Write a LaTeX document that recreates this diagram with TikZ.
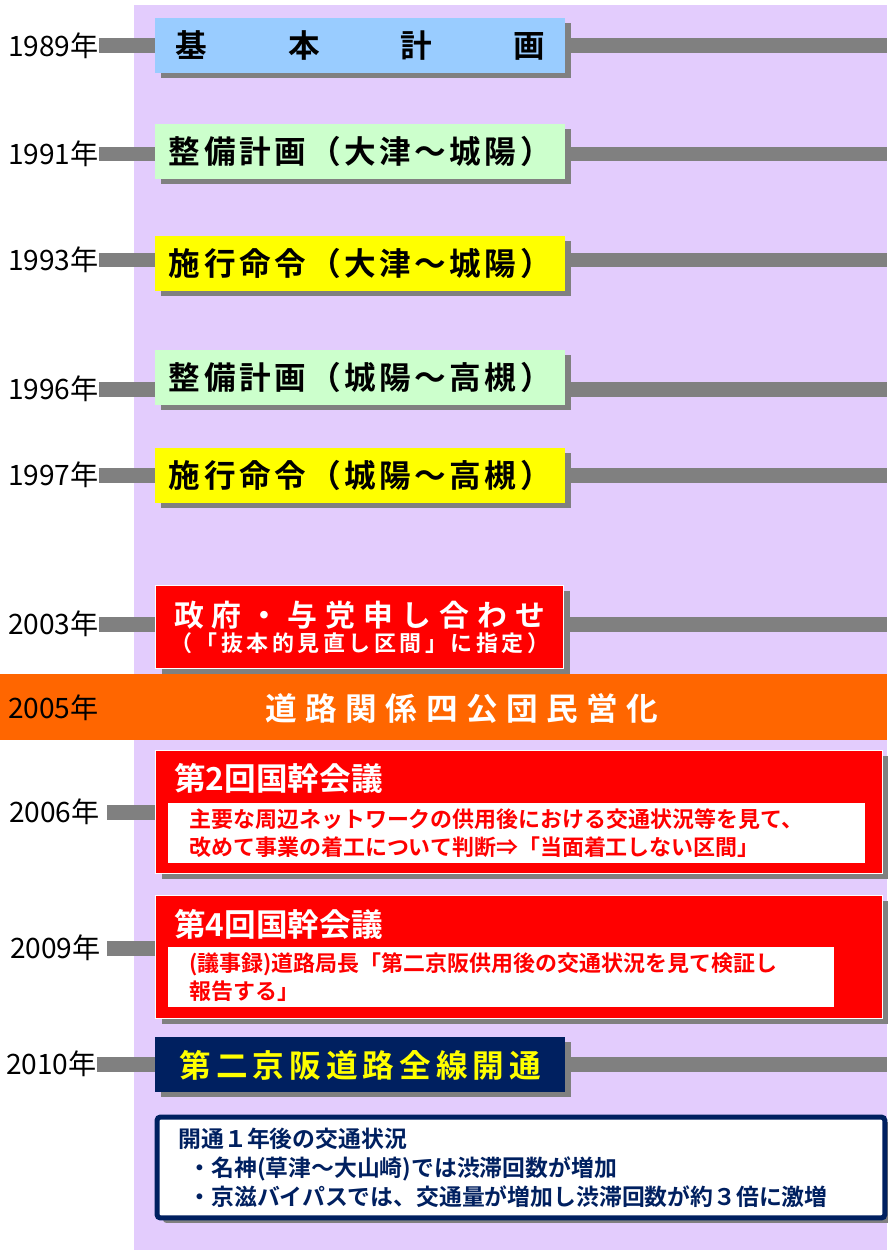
\documentclass[tikz,border=0pt]{standalone}
\usepackage{fontspec}
\usepackage{tikz}
\usetikzlibrary{shadows}

\newfontfamily\jp{Noto Sans CJK JP}
\newfontfamily\jpb{Noto Sans CJK JP Bold}
\newfontfamily\jpbsp{Noto Sans CJK JP Bold}[LetterSpace=16]
\newfontfamily\jpbnarrow{Noto Sans CJK JP Bold}[LetterSpace=11]
\newfontfamily\jpbwide{Noto Sans CJK JP Bold}[LetterSpace=27]

\definecolor{bgPurple}{RGB}{227,204,253}
\definecolor{barGray}{RGB}{128,128,128}
\definecolor{planBlue}{RGB}{153,204,255}
\definecolor{planGreen}{RGB}{204,255,204}
\definecolor{orderYellow}{RGB}{255,255,0}
\definecolor{alertRed}{RGB}{255,0,0}
\definecolor{bandOrange}{RGB}{255,102,0}
\definecolor{navy}{RGB}{0,32,96}

\begin{document}
\begin{tikzpicture}[
			x=0.02cm, y=-0.02cm,
			bar/.style={draw=barGray, line width=0.3cm},
			yearlbl/.style={anchor=east, inner sep=0pt, font=\jp\fontsize{16}{16}\selectfont},
			boxshadow/.style={drop shadow={shadow xshift=0.12cm, shadow yshift=-0.1cm, fill=barGray, opacity=1}},
			evbox/.style={
				anchor=north west,
				minimum width=8.2cm,
				minimum height=1.1cm,
				inner sep=0pt,
				font=\jpbsp\fontsize{18}{18}\selectfont,
				boxshadow
			},
			stagebox/.style={evbox, font=\jpbnarrow\fontsize{18}{18}\selectfont},
			redbox/.style={
				anchor=north west,
				fill=alertRed,
				draw=white,
				line width=0.8pt,
				inner sep=0pt,
				boxshadow
			},
			mtgtitle/.style={anchor=west, inner sep=0pt, text=white, font=\jpb\fontsize{18}{18}\selectfont},
			innerbox/.style={
				anchor=north west,
				fill=white,
				inner xsep=0.42cm,
				inner ysep=0pt,
				minimum height=1.2cm,
				align=left,
				text=alertRed,
				font=\jpb\fontsize{12.5}{16}\selectfont
			}
			]
			\useasboundingbox (0,0) rectangle (887,1250);
			\fill[bgPurple] (134,5) rectangle (887,1250);
			
			% year labels
			\node[yearlbl] (y89) at (99,46) {1989年};
			\node[yearlbl] (y91) at (99,154) {1991年};
			\node[yearlbl] (y93) at (99,260) {1993年};
			\node[yearlbl] (y96) at (99,389) {1996年};
			\node[yearlbl] (y97) at (99,475) {1997年};
			\node[yearlbl] (y03) at (99,624) {2003年};
			\node[yearlbl] (y06) at (100,812) {2006年};
			\node[yearlbl] (y09) at (101,948) {2009年};
			\node[yearlbl] (y10) at (97,1064) {2010年};
			
			% right ends of the bars
			\coordinate (r89) at (887,46);
			\coordinate (r91) at (887,154);
			\coordinate (r93) at (887,260);
			\coordinate (r96) at (887,389);
			\coordinate (r97) at (887,475);
			\coordinate (r03) at (887,624);
			\coordinate (r10) at (887,1064);
			
			% events
			\node[evbox, fill=planBlue, font=\jpb\fontsize{18}{18}\selectfont] (b89) at (155,18)
			{\makebox[7.38cm][s]{基\hfil 本\hfil 計\hfil 画}};
			\node[stagebox, fill=planGreen] (b91) at (155,124) {整備計画（大津～城陽）};
			\node[stagebox, fill=orderYellow] (b93) at (155,236) {施行命令（大津～城陽）};
			\node[stagebox, fill=planGreen] (b96) at (155,350) {整備計画（城陽～高槻）};
			\node[stagebox, fill=orderYellow] (b97) at (155,448) {施行命令（城陽～高槻）};
			
			\node[redbox, minimum width=8.16cm, minimum height=1.66cm, align=center, text=white] (b03) at (155,585)
			{{\jpbwide\fontsize{17}{17}\selectfont 政府・与党申し合わせ}\\[1pt]
				{\jpbsp\fontsize{12.5}{14}\selectfont （「抜本的見直し区間」に指定）}};
			
			\node[anchor=north west, fill=bandOrange, minimum width=17.74cm, minimum height=1.32cm, inner sep=0pt] (b05) at (0,674) {};
			\node[text=white, font=\jpbwide\fontsize{18}{18}\selectfont] (t05) at (462,708) {道路関係四公団民営化};
			\node[yearlbl] (y05) at (99,708) {2005年};
			
			\node[redbox, minimum width=14.54cm, minimum height=2.46cm] (b06) at (155,750) {};
			\node[mtgtitle] (t06) at (174,778) {第2回国幹会議};
			\node[innerbox, text width=13.1cm] (n06) at (168,803)
			{主要な周辺ネットワークの供用後における交通状況等を見て、\\
				改めて事業の着工について判断⇒「当面着工しない区間」};
			
			\node[redbox, minimum width=14.54cm, minimum height=2.46cm] (b09) at (155,895) {};
			\node[mtgtitle] (t09) at (174,924) {第4回国幹会議};
			\node[innerbox, text width=12.48cm] (n09) at (168,947)
			{(議事録)道路局長「第二京阪供用後の交通状況を見て検証し\\
				報告する」};
			
			\node[evbox, fill=navy, text=orderYellow] (b10) at (155,1037) {第二京阪道路全線開通};
			
			\node[
			anchor=north west,
			draw=navy,
			fill=white,
			line width=0.1cm,
			rounded corners=2pt,
			minimum width=14.56cm,
			minimum height=2.02cm,
			inner xsep=0.4cm,
			text width=13.7cm,
			align=left,
			text=navy,
			font=\jpb\fontsize{13}{16.5}\selectfont,
			boxshadow
			] (fb) at (154.5,1114.5)
			{開通１年後の交通状況\\
				\hspace*{0.2cm}・名神(草津～大山崎)では渋滞回数が増加\\
				\hspace*{0.2cm}・京滋バイパスでは、交通量が増加し渋滞回数が約３倍に激増};
			
			% bars
			\foreach \k in {89,91,93,96,97,03,10}{
				\draw[bar] (y\k.east) -- (y\k.east -| b\k.west);
				\draw[bar] (y\k.east -| b\k.east) -- (r\k);
			}
			\draw[bar, shorten <=0.14cm] (y06.east) -- (y06.east -| b06.west);
			\draw[bar, shorten <=0.12cm] (y09.east) -- (y09.east -| b09.west);
		\end{tikzpicture}
\end{document}
